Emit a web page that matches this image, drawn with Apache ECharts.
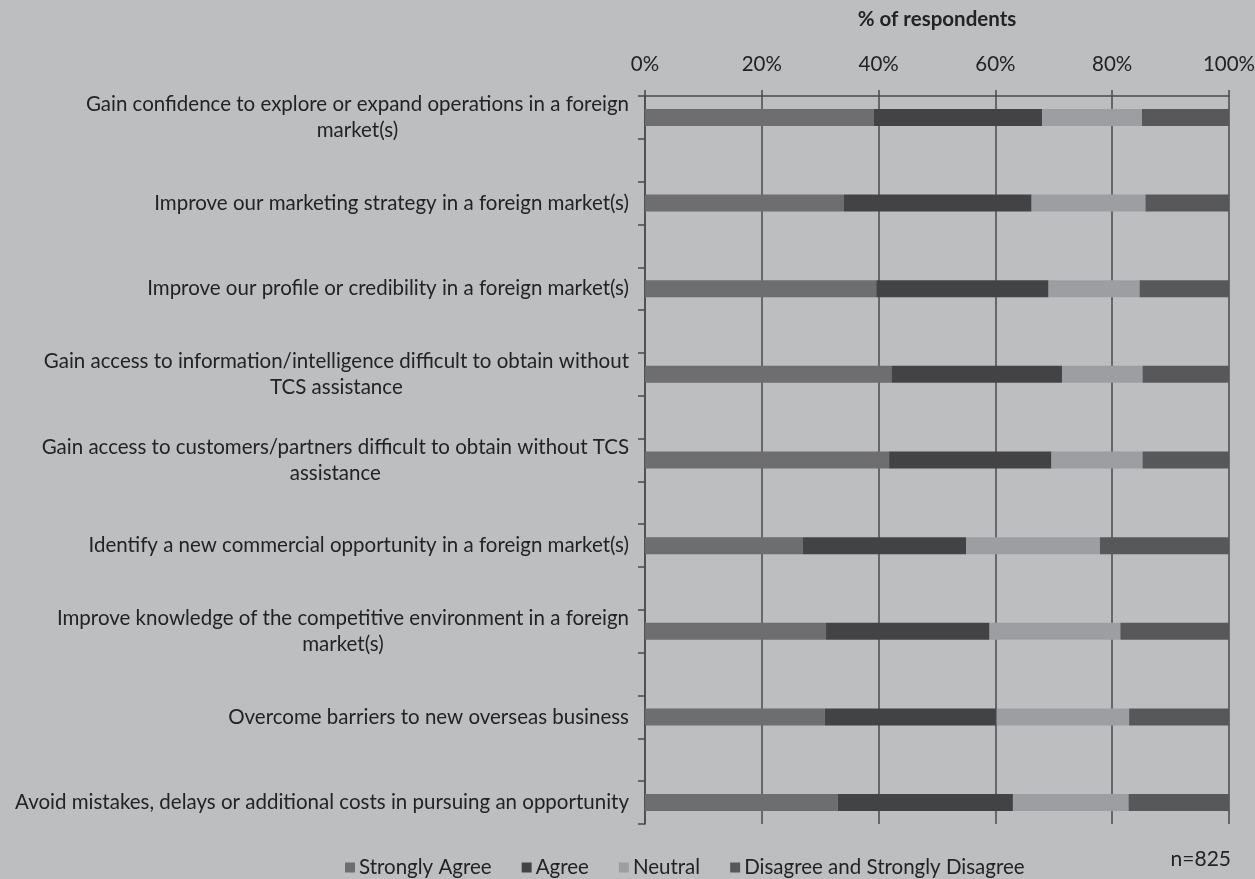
<!DOCTYPE html>
<html>
<head>
<meta charset="utf-8">
<script src="https://cdn.jsdelivr.net/npm/echarts@6/dist/echarts.min.js"></script>
<style>
html,body{margin:0;padding:0;background:#bdbec0;}
#chart{width:1255px;height:879px;}
</style>
</head>
<body>
<div id="chart"></div>
<script>
const categories = [
  'Gain confidence to explore or expand operations in a foreign\nmarket(s)',
  'Improve our marketing strategy in a foreign market(s)',
  'Improve our profile or credibility in a foreign market(s)',
  'Gain access to information/intelligence difficult to obtain without\nTCS assistance',
  'Gain access to customers/partners difficult to obtain without TCS\nassistance',
  'Identify a new commercial opportunity in a foreign market(s)',
  'Improve knowledge of the competitive environment in a foreign\nmarket(s)',
  'Overcome barriers to new overseas business',
  'Avoid mistakes, delays or additional costs in pursuing an opportunity'
];
const seriesNames = ['Strongly Agree', 'Agree', 'Neutral', 'Disagree and Strongly Disagree'];
const stronglyAgree = [39.2, 34.0, 39.6, 42.2, 41.8, 27.0, 31.0, 30.8, 33.0];
const agree         = [28.8, 32.2, 29.5, 29.2, 27.8, 28.0, 28.0, 29.4, 30.0];
const neutral       = [17.1, 19.5, 15.6, 13.8, 15.6, 22.9, 22.4, 22.7, 19.8];
const disagree      = [14.9, 14.3, 15.3, 14.8, 14.8, 22.1, 18.6, 17.1, 17.2];
const xTickLabels = ['0%', '20%', '40%', '60%', '80%', '100%'];
const sampleNote = 'n=825';

const colors = ['#6e6e71', '#434346', '#9d9ea1', '#58585b'];
const FONT = 'Lato';
const TXT = '#232323';

// Spread the 9 rows over 17 slots (an empty slot between rows, as in the original)
function spread(arr, blank) {
  const out = [];
  arr.forEach((v, i) => { if (i > 0) out.push(blank); out.push(v); });
  return out;
}
const slotCats = spread(categories, '');
const valueSets = [stronglyAgree, agree, neutral, disagree];

const chart = echarts.init(document.getElementById('chart'));
chart.setOption({
  backgroundColor: '#bdbec0',
  animation: false,
  title: {
    text: sampleNote, right: 19, top: 844,
    textStyle: { fontFamily: FONT, fontSize: 21, fontWeight: 'normal', color: TXT }
  },
  legend: {
    top: 852, left: 340,
    icon: 'rect', itemWidth: 10, itemHeight: 10, itemGap: 30,
    textStyle: { fontFamily: FONT, fontSize: 20.5, color: TXT, padding: [0, 0, 0, -1] },
    data: seriesNames
  },
  grid: { left: 645, right: 26, top: 96, bottom: 55, outerBoundsMode: 'none', containLabel: false },
  xAxis: {
    type: 'value', position: 'top', min: 0, max: 100, interval: 20,
    name: '% of respondents', nameLocation: 'middle', nameGap: 66,
    nameTextStyle: { fontFamily: FONT, fontSize: 20.5, fontWeight: 'bold', color: TXT },
    axisLine: { show: true, lineStyle: { color: '#4a4a4c', width: 1.5 } },
    axisTick: { show: true, length: 6, lineStyle: { color: '#4a4a4c', width: 1.5 } },
    axisLabel: {
      margin: 21, fontFamily: FONT, fontSize: 20.5, color: TXT,
      formatter: (v) => xTickLabels[Math.round(v / 20)]
    },
    splitLine: { show: true, lineStyle: { color: '#4a4a4c', width: 1.5 } }
  },
  yAxis: {
    type: 'category', inverse: true, data: slotCats,
    axisLine: { show: true, lineStyle: { color: '#4a4a4c', width: 1.5 } },
    axisTick: { show: true, length: 7, interval: 0, lineStyle: { color: '#4a4a4c', width: 1.5 } },
    axisLabel: {
      interval: 0, margin: 16,
      formatter: (v) => v ? v.split('\n').map(l => '{c|' + l + '}').join('\n') : '',
      rich: { c: { align: 'center', fontFamily: FONT, fontSize: 20.5, lineHeight: 26, color: TXT } }
    },
    splitLine: { show: false }
  },
  series: seriesNames.map((name, i) => ({
    name, type: 'bar', stack: 'total', barWidth: 17,
    itemStyle: { color: colors[i] },
    data: spread(valueSets[i], '-')
  }))
});
</script>
</body>
</html>
